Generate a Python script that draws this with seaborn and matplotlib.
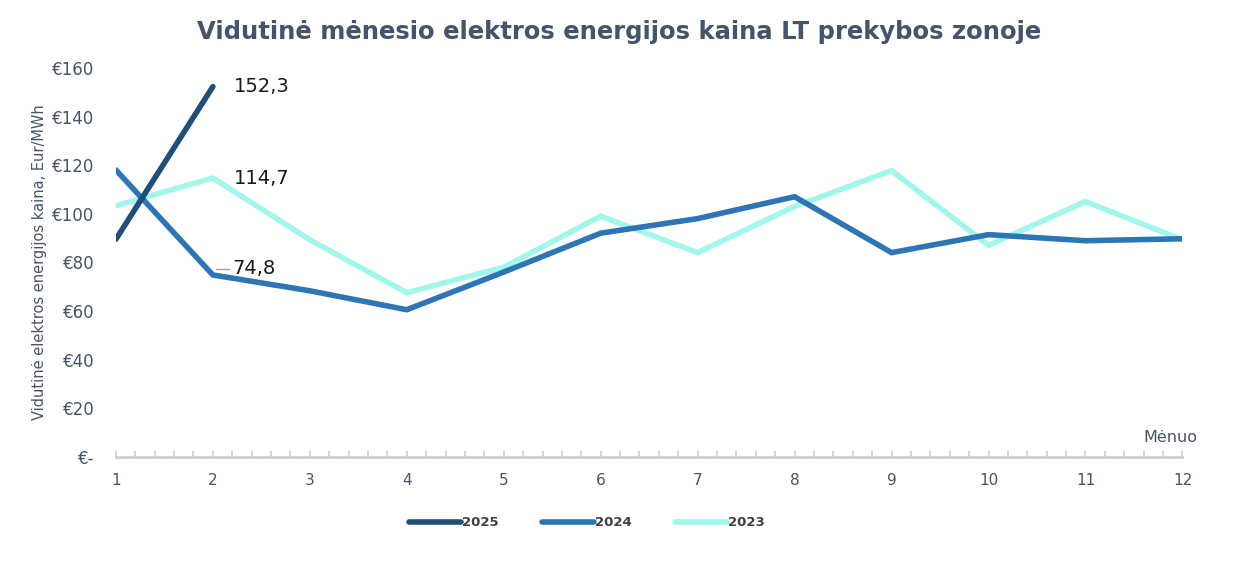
import matplotlib
matplotlib.use("Agg")
import matplotlib.pyplot as plt
import numpy as np
import pandas as pd
import seaborn as sns
from matplotlib.ticker import MultipleLocator

# duomenys nuskaityti nuo grafiko (Eur/MWh)
months = list(range(1, 13))
price_2025 = [89.5, 152.3]
price_2024 = [118.0, 74.8, 68.3, 60.5, 76.0, 92.0, 98.0, 107.0, 84.0, 91.4, 88.9, 89.7]
price_2023 = [103.3, 114.7, 89.3, 67.5, 78.0, 99.0, 84.0, 103.0, 117.7, 87.0, 105.0, 89.3]
years = ["2025", "2024", "2023"]
colors = ["#1f4e79", "#2e75b6", "#a3f7ea"]
y_ticks = [0, 20, 40, 60, 80, 100, 120, 140, 160]
y_tick_labels = ["€-", "€20", "€40", "€60", "€80", "€100", "€120", "€140", "€160"]

TEXT = "#44546a"

df = pd.concat([
    pd.DataFrame({"Menuo": months[:len(price_2025)], "Kaina": price_2025, "Metai": "2025"}),
    pd.DataFrame({"Menuo": months, "Kaina": price_2024, "Metai": "2024"}),
    pd.DataFrame({"Menuo": months, "Kaina": price_2023, "Metai": "2023"}),
])

sns.set_theme(style="white")
plt.rcParams["font.family"] = ["DejaVu Sans"]

fig = plt.figure(figsize=(12.33, 5.66), dpi=100)
ax = fig.add_axes([0.094, 0.193, 0.865, 0.687])

sns.lineplot(
    data=df, x="Menuo", y="Kaina", hue="Metai", hue_order=years,
    palette=dict(zip(years, colors)), linewidth=4, ax=ax, legend=False,
)
# 2025 virš visų, 2023 apačioje
for line, z in zip(ax.lines, [3, 2, 1]):
    line.set_zorder(z)
    line.set_solid_joinstyle("miter")

ax.set_xlim(1, 12)
ax.set_ylim(0, 160)
ax.set_xticks(months)
ax.xaxis.set_minor_locator(MultipleLocator(0.2))
ax.set_yticks(y_ticks)
ax.set_yticklabels(y_tick_labels)
ax.tick_params(axis="y", length=0, labelsize=12, labelcolor=TEXT, pad=15.5)
ax.tick_params(axis="x", which="both", direction="in", color="#d0d0d0",
               labelsize=11, labelcolor=TEXT, pad=12)
ax.tick_params(axis="x", which="major", length=4, width=1.2, bottom=True)
ax.tick_params(axis="x", which="minor", length=4, width=1.2, bottom=True)

for s in ["top", "right", "left"]:
    ax.spines[s].set_visible(False)
ax.spines["bottom"].set_color("#d0d0d0")
ax.spines["bottom"].set_linewidth(2)

ax.set_xlabel("")
ax.set_ylabel("Vidutinė elektros energijos kaina, Eur/MWh", fontsize=10.5, color=TEXT)
ax.yaxis.set_label_coords(-0.065, 0.5)
ax.text(12.15, 5, "Mėnuo", ha="right", va="bottom", fontsize=11.5, color=TEXT)

# reikšmių etiketės vasario mėnesiui
ax.text(2.22, price_2025[1], "152,3", fontsize=14, color="#1a1a1a", va="center")
ax.text(2.22, price_2023[1], "114,7", fontsize=14, color="#1a1a1a", va="center")
ax.text(2.2, price_2024[1] + 2.5, "74,8", fontsize=14, color="#1a1a1a", va="center")
ax.plot([2.03, 2.17], [price_2024[1] + 2.5, price_2024[1] + 2.5], color="#a0a0a0", lw=1)

fig.suptitle("Vidutinė mėnesio elektros energijos kaina LT prekybos zonoje",
             x=0.502, y=0.965, fontsize=17.5, fontweight="bold", color=TEXT)

handles = [plt.Line2D([0], [0], color=c, lw=4, solid_capstyle="round") for c in colors]
leg = fig.legend(handles, years, loc="center", bbox_to_anchor=(0.476, 0.076), ncol=3,
                 frameon=False, handlelength=3.9, handletextpad=0.1, columnspacing=3.3,
                 prop={"size": 9.5, "weight": "bold"})
for t in leg.get_texts():
    t.set_color("#404040")

fig.savefig("out.png", dpi=100)
